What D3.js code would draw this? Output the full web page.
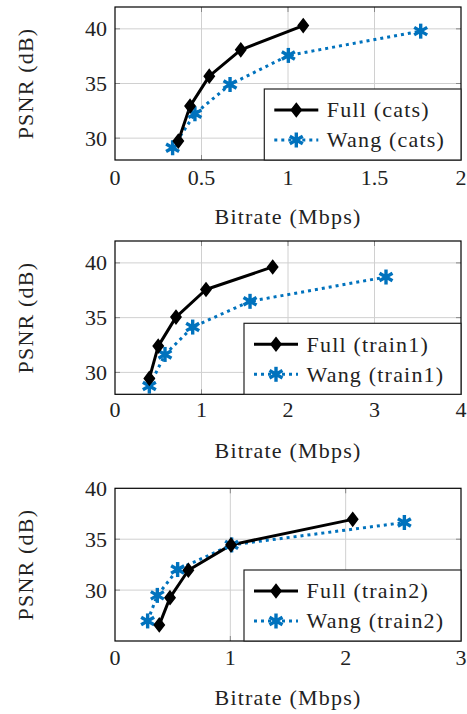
<!DOCTYPE html>
<html>
<head>
<meta charset="utf-8">
<script src="https://cdn.jsdelivr.net/npm/d3@7"></script>
<style>
  html, body { margin: 0; padding: 0; background: #fff; }
  svg { display: block; }
  text { font-family: "Liberation Serif", "Times New Roman", serif; fill: #222; }
  .wide { letter-spacing: 1.2px; }
</style>
</head>
<body>
<svg id="chart" width="467" height="714"></svg>
<script>
// ---------- DATA ----------
const catsFullBitrate = [0.366, 0.434, 0.545, 0.727, 1.088];
const catsFullPsnr    = [29.73, 32.93, 35.67, 38.08, 40.30];
const catsWangBitrate = [0.333, 0.462, 0.665, 1.002, 1.767];
const catsWangPsnr    = [29.12, 32.23, 34.91, 37.57, 39.79];

const train1FullBitrate = [0.397, 0.500, 0.705, 1.052, 1.823];
const train1FullPsnr    = [29.45, 32.40, 35.05, 37.57, 39.63];
const train1WangBitrate = [0.397, 0.578, 0.898, 1.561, 3.133];
const train1WangPsnr    = [28.75, 31.64, 34.14, 36.49, 38.71];

const train2FullBitrate = [0.384, 0.477, 0.636, 1.006, 2.061];
const train2FullPsnr    = [26.58, 29.26, 31.95, 34.44, 36.95];
const train2WangBitrate = [0.283, 0.367, 0.543, 1.011, 2.509];
const train2WangPsnr    = [26.97, 29.48, 32.02, 34.44, 36.64];

const xTicksCats   = [0, 0.5, 1, 1.5, 2];
const xTicksTrain1 = [0, 1, 2, 3, 4];
const xTicksTrain2 = [0, 1, 2, 3];
const yTicksAll    = [30, 35, 40];

const seriesNames = ["Full", "Wang"];
const videoNames  = ["cats", "train1", "train2"];

const xLabel = "Bitrate (Mbps)";
const yLabel = "PSNR (dB)";

// ---------- LAYOUT ----------
const panels = [
  { name: videoNames[0], xDomain: [0, 2], yDomain: [28, 42], xTicks: xTicksCats,
    full: [catsFullBitrate, catsFullPsnr], wang: [catsWangBitrate, catsWangPsnr],
    top: 7, bottom: 160, tickGap: 25, legendLeft: 264.3 },
  { name: videoNames[1], xDomain: [0, 4], yDomain: [28, 42], xTicks: xTicksTrain1,
    full: [train1FullBitrate, train1FullPsnr], wang: [train1WangBitrate, train1WangPsnr],
    top: 241, bottom: 394.3, tickGap: 22.5, legendLeft: 244 },
  { name: videoNames[2], xDomain: [0, 3], yDomain: [25, 40], xTicks: xTicksTrain2,
    full: [train2FullBitrate, train2FullPsnr], wang: [train2WangBitrate, train2WangPsnr],
    top: 488.3, bottom: 641, tickGap: 24, legendLeft: 244 }
];
const left = 115, right = 461;
const blue = "#0072BD";
const fontSize = 22;

const svg = d3.select("#chart");

const diamond = (s, cx, cy, w, h) =>
  s.append("path")
    .attr("d", `M${cx},${cy - h}L${cx + w},${cy}L${cx},${cy + h}L${cx - w},${cy}Z`)
    .attr("fill", "#000").attr("stroke", "#000").attr("stroke-width", 1.6)
    .attr("stroke-linejoin", "miter");

const asterisk = (s, cx, cy, r) => {
  const g = s.append("g").attr("transform", `translate(${cx},${cy})`);
  [90, 30, -30].forEach(a => {
    const rad = a * Math.PI / 180;
    g.append("line")
      .attr("x1", -r * Math.cos(rad)).attr("y1", -r * Math.sin(rad))
      .attr("x2", r * Math.cos(rad)).attr("y2", r * Math.sin(rad))
      .attr("stroke", blue).attr("stroke-width", 3.4).attr("stroke-linecap", "butt");
  });
  g.append("circle").attr("r", 3.2).attr("fill", blue);
};

panels.forEach(p => {
  const x = d3.scaleLinear().domain(p.xDomain).range([left, right]);
  const y = d3.scaleLinear().domain(p.yDomain).range([p.bottom, p.top]);
  const g = svg.append("g");

  // grid
  g.selectAll(".gx").data(p.xTicks.slice(1, -1)).join("line")
    .attr("x1", d => x(d)).attr("x2", d => x(d))
    .attr("y1", p.top).attr("y2", p.bottom)
    .attr("stroke", "#d0d0d0").attr("stroke-width", 1);
  g.selectAll(".gy").data(yTicksAll.filter(d => y(d) > p.top + 1)).join("line")
    .attr("x1", left).attr("x2", right)
    .attr("y1", d => y(d)).attr("y2", d => y(d))
    .attr("stroke", "#d0d0d0").attr("stroke-width", 1);

  // tick marks (inside, grey)
  g.selectAll(".tx").data(p.xTicks.slice(1, -1)).join("g").each(function(d) {
    const t = d3.select(this);
    t.append("line").attr("x1", x(d)).attr("x2", x(d)).attr("y1", p.bottom).attr("y2", p.bottom - 5)
      .attr("stroke", "#888").attr("stroke-width", 1);
    t.append("line").attr("x1", x(d)).attr("x2", x(d)).attr("y1", p.top).attr("y2", p.top + 5)
      .attr("stroke", "#888").attr("stroke-width", 1);
  });
  g.selectAll(".ty").data(yTicksAll.filter(d => y(d) > p.top + 1)).join("g").each(function(d) {
    const t = d3.select(this);
    t.append("line").attr("x1", left).attr("x2", left + 5).attr("y1", y(d)).attr("y2", y(d))
      .attr("stroke", "#888").attr("stroke-width", 1);
    t.append("line").attr("x1", right).attr("x2", right - 5).attr("y1", y(d)).attr("y2", y(d))
      .attr("stroke", "#888").attr("stroke-width", 1);
  });

  // tick labels
  g.selectAll(".lx").data(p.xTicks).join("text")
    .attr("x", d => x(d)).attr("y", p.bottom + p.tickGap)
    .attr("text-anchor", "middle").attr("font-size", fontSize)
    .text(d => d3.format("~g")(d));
  g.selectAll(".ly").data(yTicksAll).join("text")
    .attr("x", left - 8).attr("y", d => y(d)).attr("dy", "0.34em")
    .attr("text-anchor", "end").attr("font-size", fontSize)
    .text(d => d);

  // axis labels
  g.append("text").attr("class", "wide").attr("x", (left + right) / 2).attr("y", p.bottom + 64)
    .attr("text-anchor", "middle").attr("font-size", fontSize).text(xLabel);
  g.append("text").attr("class", "wide")
    .attr("transform", `translate(33,${(p.top + p.bottom) / 2}) rotate(-90)`)
    .attr("text-anchor", "middle").attr("font-size", fontSize).text(yLabel);

  // lines
  const lineGen = d3.line().x(d => x(d[0])).y(d => y(d[1]));
  const wangPts = d3.zip(p.wang[0], p.wang[1]);
  const fullPts = d3.zip(p.full[0], p.full[1]);
  g.append("path").datum(wangPts).attr("d", lineGen)
    .attr("fill", "none").attr("stroke", blue).attr("stroke-width", 3)
    .attr("stroke-dasharray", "3,4");
  g.append("path").datum(fullPts).attr("d", lineGen)
    .attr("fill", "none").attr("stroke", "#000").attr("stroke-width", 3)
    .attr("stroke-linejoin", "round");
  wangPts.forEach(d => asterisk(g, x(d[0]), y(d[1]), 7.5));
  fullPts.forEach(d => diamond(g, x(d[0]), y(d[1]), 5, 6.5));

  // frame
  g.append("rect").attr("x", left).attr("y", p.top)
    .attr("width", right - left).attr("height", p.bottom - p.top)
    .attr("fill", "none").attr("stroke", "#000").attr("stroke-width", 1.2);

  // legend
  const lg = g.append("g");
  const lx = p.legendLeft, ly = p.bottom - 71;
  lg.append("rect").attr("x", lx).attr("y", ly).attr("width", right - lx).attr("height", 71)
    .attr("fill", "#fff").attr("stroke", "#222").attr("stroke-width", 1.2);
  // row 1: Full
  lg.append("line").attr("x1", lx + 10).attr("x2", lx + 54).attr("y1", ly + 21).attr("y2", ly + 21)
    .attr("stroke", "#000").attr("stroke-width", 3);
  diamond(lg, lx + 32, ly + 21, 5, 6.5);
  lg.append("text").attr("class", "wide").attr("x", lx + 62.5).attr("y", ly + 21).attr("dy", "0.33em")
    .attr("font-size", fontSize).text(`${seriesNames[0]} (${p.name})`);
  // row 2: Wang
  lg.append("line").attr("x1", lx + 10).attr("x2", lx + 54).attr("y1", ly + 51).attr("y2", ly + 51)
    .attr("stroke", blue).attr("stroke-width", 3).attr("stroke-dasharray", "3,4");
  asterisk(lg, lx + 32, ly + 51, 7.5);
  lg.append("text").attr("class", "wide").attr("x", lx + 62.5).attr("y", ly + 51).attr("dy", "0.33em")
    .attr("font-size", fontSize).text(`${seriesNames[1]} (${p.name})`);
});
</script>
</body>
</html>
